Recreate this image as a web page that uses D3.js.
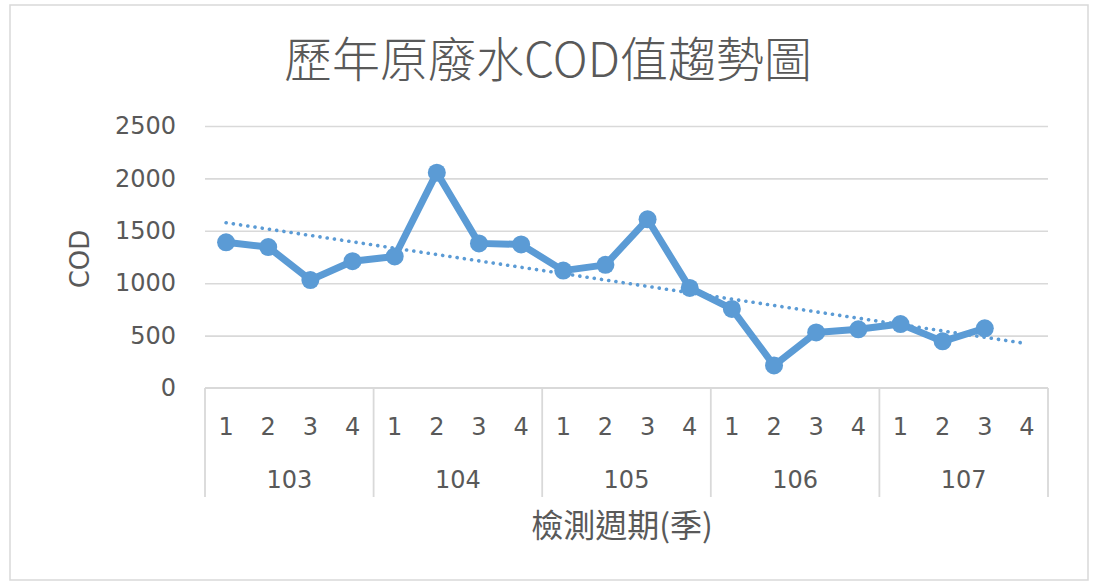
<!DOCTYPE html>
<html>
<head>
<meta charset="utf-8">
<script src="https://cdn.jsdelivr.net/npm/d3@7"></script>
<style>
  html, body { margin: 0; padding: 0; background: #fff; }
  svg { display: block; }
</style>
</head>
<body>
<svg id="chart" width="1095" height="584"></svg>
<script>
// ---- data ----
const years = ["103", "104", "105", "106", "107"];
const quarters = ["1", "2", "3", "4"];
const codValues = [
  1390, 1345, 1030, 1210,
  1255, 2055, 1380, 1370,
  1120, 1175, 1610, 955,
  755, 215, 530, 560,
  610, 445, 570
];
const yTicks = [0, 500, 1000, 1500, 2000, 2500];
const titleText = "歷年原廢水COD值趨勢圖";
const yTitle = "COD";
const xTitle = "檢測週期(季)";

// ---- layout ----
const plot = { left: 205, right: 1048, top: 126, bottom: 388 };
const color = "#5B9BD5";
const gridColor = "#d9d9d9";
const textColor = "#595959";
const numFont = "'DejaVu Sans', sans-serif";
const cjkFont = "'Noto Sans CJK TC', 'Noto Sans', sans-serif";

const svg = d3.select("#chart");

// chart border
svg.append("rect")
  .attr("x", 10).attr("y", 5).attr("width", 1078).attr("height", 575)
  .attr("fill", "#fff").attr("stroke", "#d9d9d9").attr("stroke-width", 1.5);

// categories
const cats = [];
years.forEach(yr => quarters.forEach(q => cats.push({ year: yr, q: q, key: yr + "-" + q })));

const x = d3.scaleBand().domain(cats.map(c => c.key)).range([plot.left, plot.right]);
const xYear = d3.scaleBand().domain(years).range([plot.left, plot.right]);
const y = d3.scaleLinear().domain([0, 2500]).range([plot.bottom, plot.top]);

// gridlines
const grid = svg.append("g")
  .attr("transform", `translate(${plot.left},0)`)
  .call(d3.axisLeft(y).tickValues(yTicks.filter(v => v > 0)).tickSize(-(plot.right - plot.left)).tickFormat(""));
grid.select(".domain").remove();
grid.selectAll("line").attr("stroke", gridColor).attr("stroke-width", 1.6);

// y axis labels
const yAxis = svg.append("g")
  .attr("transform", `translate(${plot.left},0)`)
  .call(d3.axisLeft(y).tickValues(yTicks).tickSize(0).tickPadding(29).tickFormat(d3.format("d")));
yAxis.select(".domain").remove();
yAxis.selectAll("text")
  .attr("font-family", numFont).attr("font-size", 24).attr("fill", textColor);

// category axis line
svg.append("line")
  .attr("x1", plot.left).attr("x2", plot.right)
  .attr("y1", plot.bottom).attr("y2", plot.bottom)
  .attr("stroke", gridColor).attr("stroke-width", 1.8);

// group separators
const bounds = years.map(yr => xYear(yr)).concat([plot.right]);
svg.append("g").selectAll("line").data(bounds).join("line")
  .attr("x1", d => d).attr("x2", d => d)
  .attr("y1", plot.bottom).attr("y2", 497)
  .attr("stroke", gridColor).attr("stroke-width", 1.8);

// quarter labels
const qAxis = svg.append("g")
  .attr("transform", `translate(0,${plot.bottom})`)
  .call(d3.axisBottom(x).tickSize(0).tickPadding(30).tickFormat(k => k.split("-")[1]));
qAxis.select(".domain").remove();
qAxis.selectAll("text")
  .attr("font-family", numFont).attr("font-size", 24).attr("fill", textColor);

// year labels
const yrAxis = svg.append("g")
  .attr("transform", `translate(0,${plot.bottom})`)
  .call(d3.axisBottom(xYear).tickSize(0).tickPadding(83));
yrAxis.select(".domain").remove();
yrAxis.selectAll("text")
  .attr("font-family", numFont).attr("font-size", 24).attr("fill", textColor);

// trendline (linear least squares over data points)
const pts = codValues.map((v, i) => [i + 1, v]);
const mx = d3.mean(pts, p => p[0]), my = d3.mean(pts, p => p[1]);
const slope = d3.sum(pts, p => (p[0] - mx) * (p[1] - my)) / d3.sum(pts, p => (p[0] - mx) ** 2);
const intercept = my - slope * mx;
const xi = i => x(cats[i - 1].key) + x.bandwidth() / 2;
const trend = [1, cats.length].map(i => [xi(i), y(intercept + slope * i)]);
svg.append("path")
  .attr("d", d3.line()(trend))
  .attr("fill", "none").attr("stroke", color).attr("stroke-width", 3.6)
  .attr("stroke-linecap", "round").attr("stroke-dasharray", "0.1,7.2");

// data line
const line = d3.line()
  .x((d, i) => x(cats[i].key) + x.bandwidth() / 2)
  .y(d => y(d));
svg.append("path")
  .datum(codValues)
  .attr("d", line)
  .attr("fill", "none").attr("stroke", color).attr("stroke-width", 7)
  .attr("stroke-linejoin", "round");

svg.append("g").selectAll("circle").data(codValues).join("circle")
  .attr("cx", (d, i) => x(cats[i].key) + x.bandwidth() / 2)
  .attr("cy", d => y(d))
  .attr("r", 9)
  .attr("fill", color);

// titles
svg.append("text")
  .attr("x", 548).attr("y", 77)
  .attr("text-anchor", "middle")
  .attr("font-family", cjkFont).attr("font-size", 48).attr("font-weight", 300)
  .attr("fill", textColor)
  .text(titleText);

svg.append("text")
  .attr("transform", `translate(89,259) rotate(-90)`)
  .attr("text-anchor", "middle")
  .attr("font-family", numFont).attr("font-size", 26)
  .attr("fill", textColor)
  .text(yTitle);

svg.append("text")
  .attr("x", 622).attr("y", 537)
  .attr("text-anchor", "middle")
  .attr("font-family", cjkFont).attr("font-size", 32)
  .attr("fill", textColor)
  .text(xTitle);
</script>
</body>
</html>
